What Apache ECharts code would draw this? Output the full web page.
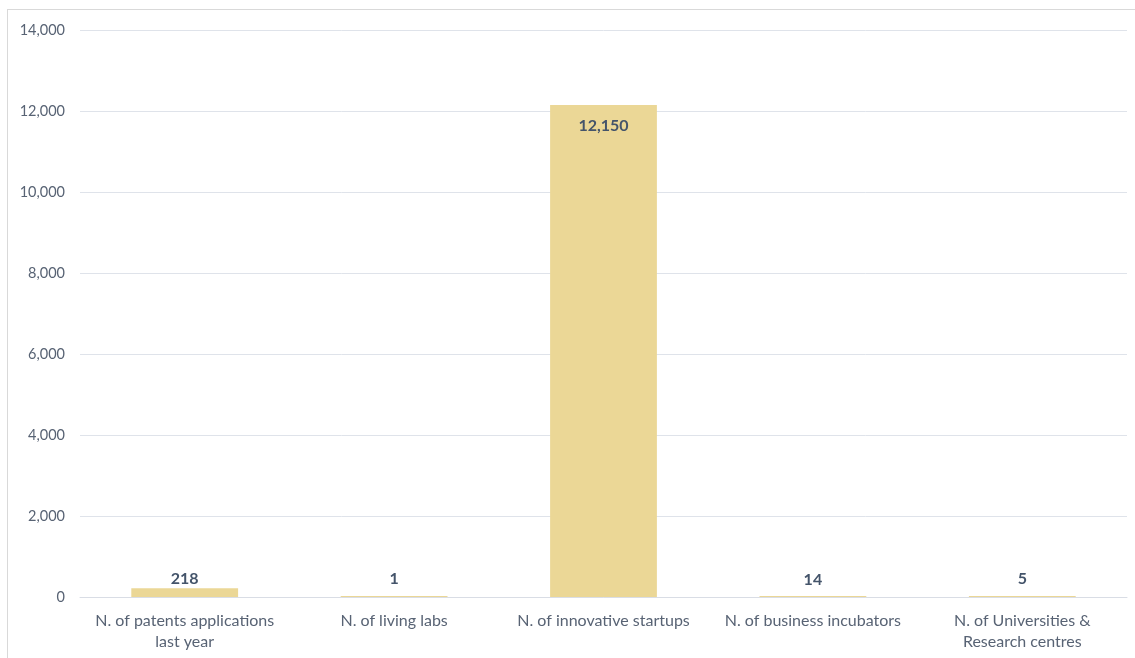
<!DOCTYPE html>
<html><head><meta charset="utf-8">
<script src="https://cdn.jsdelivr.net/npm/echarts@6/dist/echarts.min.js"></script>
<style>
html,body{margin:0;padding:0;background:#fff;overflow:hidden;}
#frame{position:absolute;left:7px;top:9px;width:1200px;height:700px;border:1px solid #d9d9d9;box-sizing:border-box;}
#c{position:absolute;left:0;top:0;width:1135px;height:658px;}
</style></head>
<body><div id="frame"></div><div id="c"></div>
<script>
const categories = ["N. of patents applications\nlast year","N. of living labs","N. of innovative startups","N. of business incubators","N. of Universities &\nResearch centres"];
const values = [218, 1, 12150, 14, 5];
const yTicks = [0,2000,4000,6000,8000,10000,12000,14000];

const font = "Lato, 'Open Sans', sans-serif";
const yMax = yTicks[yTicks.length-1];
const plotH = 567;
const chart = echarts.init(document.getElementById('c'));
chart.setOption({
  animation:false,
  grid:{left:80,right:8,top:30,bottom:61,containLabel:false},
  xAxis:{type:'category',data:categories,
    axisLine:{lineStyle:{color:'#d9dde5'}},axisTick:{show:false},
    axisLabel:{color:'#586374',fontFamily:font,fontSize:16,lineHeight:21,margin:13,interval:0}},
  yAxis:{type:'value',min:yTicks[0],max:yMax,interval:2000,
    axisLine:{show:false},axisTick:{show:false},
    splitLine:{lineStyle:{color:'#dfe3ea'}},
    axisLabel:{color:'#586374',fontFamily:font,fontSize:14.5,margin:15,
      formatter:v=>v.toLocaleString('en-US')}},
  series:[{type:'bar',barWidth:'51%',barMinHeight:1,
    itemStyle:{color:'#ebd796'},
    data:values.map(v=>{
      const big = v > yMax/3;
      const h = v/yMax*plotH;
      return {value:v,label:{position: big?'insideTop':'top',distance: big?13:Math.max(1,9-h)}};
    }),
    label:{show:true,color:'#44546a',fontWeight:'bold',fontFamily:font,fontSize:16,
      formatter:p=>p.value.toLocaleString('en-US')}
  }]
});
</script></body></html>
